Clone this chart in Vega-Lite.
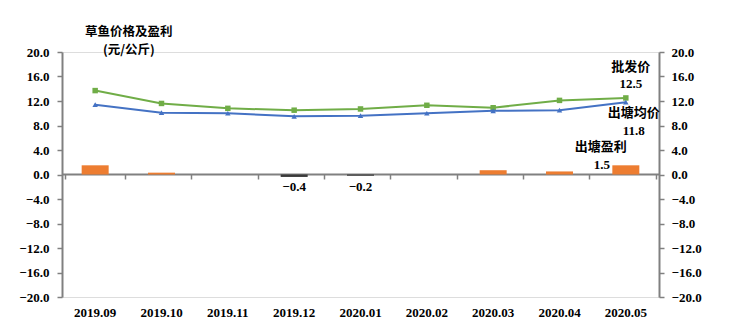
{
  "$schema": "https://vega.github.io/schema/vega-lite/v6.json",
  "width": 597,
  "height": 245,
  "autosize": "none",
  "padding": {"left": 62, "top": 52, "right": 91, "bottom": 36},
  "background": "white",
  "title": {
    "text": ["草鱼价格及盈利", "(元/公斤)"],
    "anchor": "start",
    "align": "center",
    "dx": 110,
    "offset": -10,
    "font": "Noto Sans CJK SC",
    "fontSize": 12.5,
    "fontWeight": "bold",
    "lineHeight": 18,
    "color": "#000000"
  },
  "data": {
    "values": [
      {"month": "2019.09", "wholesale": 13.7, "pond": 11.4, "profit": 1.5},
      {"month": "2019.10", "wholesale": 11.6, "pond": 10.1, "profit": 0.3},
      {"month": "2019.11", "wholesale": 10.8, "pond": 10.0, "profit": 0.0},
      {"month": "2019.12", "wholesale": 10.5, "pond": 9.5, "profit": -0.4},
      {"month": "2020.01", "wholesale": 10.7, "pond": 9.6, "profit": -0.2},
      {"month": "2020.02", "wholesale": 11.3, "pond": 10.0, "profit": 0.0},
      {"month": "2020.03", "wholesale": 10.9, "pond": 10.4, "profit": 0.7},
      {"month": "2020.04", "wholesale": 12.1, "pond": 10.5, "profit": 0.5},
      {"month": "2020.05", "wholesale": 12.5, "pond": 11.8, "profit": 1.5}
    ]
  },
  "resolve": {"axis": {"x": "independent", "y": "independent"}},
  "layer": [
    {
      "mark": {"type": "bar", "size": 27},
      "encoding": {
        "x": {"field": "month", "type": "nominal", "sort": null,
          "axis": {"orient": "bottom", "domain": false, "ticks": false, "labelAngle": 0, "labelPadding": 9, "labelFont": "Liberation Serif", "labelFontSize": 13, "labelFontWeight": "bold", "labelColor": "#000000", "title": null, "grid": false}},
        "y": {"field": "profit", "type": "quantitative", "scale": {"domain": [-20, 20]},
          "axis": {"orient": "left", "values": [-20, -16, -12, -8, -4, 0, 4, 8, 12, 16, 20], "format": ".1f", "tickSize": 5, "domainColor": "#808080", "domainWidth": 2, "tickColor": "#808080", "tickWidth": 1.5, "labelFont": "Liberation Serif", "labelFontSize": 13, "labelFontWeight": "bold", "labelColor": "#000000", "labelPadding": 8, "grid": false, "title": null}},
        "color": {"condition": {"test": "datum.profit < 0", "value": "#3a3a3a"}, "value": "#ED7D31"}
      }
    },
    {
      "mark": {"type": "line", "color": "#70AD47", "strokeWidth": 2,
        "point": {"shape": "square", "size": 30, "filled": true, "color": "#70AD47"}},
      "encoding": {
        "x": {"field": "month", "type": "nominal", "sort": null,
          "axis": {"orient": "bottom", "offset": -123, "labels": false, "tickBand": "extent", "tickSize": 5, "domainColor": "#808080", "domainWidth": 2, "tickColor": "#808080", "tickWidth": 1.5, "title": null, "grid": false}},
        "y": {"field": "wholesale", "type": "quantitative",
          "axis": {"orient": "right", "values": [-20, -16, -12, -8, -4, 0, 4, 8, 12, 16, 20], "format": ".1f", "tickSize": 5, "domainColor": "#808080", "domainWidth": 2, "tickColor": "#808080", "tickWidth": 1.5, "labelFont": "Liberation Serif", "labelFontSize": 13, "labelFontWeight": "bold", "labelColor": "#000000", "labelPadding": 7, "grid": false, "title": null}}
      }
    },
    {
      "mark": {"type": "line", "color": "#4472C4", "strokeWidth": 2,
        "point": {"shape": "triangle-up", "size": 30, "filled": true, "color": "#4472C4"}},
      "encoding": {
        "x": {"field": "month", "type": "nominal", "sort": null, "axis": null},
        "y": {"field": "pond", "type": "quantitative", "axis": null}
      }
    },
    {
      "transform": [{"filter": "datum.profit < 0"}],
      "mark": {"type": "text", "dy": 12, "font": "Liberation Serif", "fontSize": 13, "fontWeight": "bold", "baseline": "middle", "color": "#000000"},
      "encoding": {
        "x": {"field": "month", "type": "nominal", "sort": null, "axis": null},
        "y": {"datum": 0, "type": "quantitative", "axis": null},
        "text": {"field": "profit", "type": "quantitative", "format": ".1f"}
      }
    },
    {
      "transform": [{"filter": "datum.month == '2020.05'"}],
      "mark": {"type": "text", "dx": 5, "dy": -31, "font": "Noto Sans CJK SC", "fontSize": 13, "fontWeight": "bold", "baseline": "middle", "color": "#000000", "text": "批发价"},
      "encoding": {
        "x": {"field": "month", "type": "nominal", "sort": null, "axis": null},
        "y": {"field": "wholesale", "type": "quantitative", "axis": null}
      }
    },
    {
      "transform": [{"filter": "datum.month == '2020.05'"}],
      "mark": {"type": "text", "dx": 5, "dy": -14, "font": "Liberation Serif", "fontSize": 13, "fontWeight": "bold", "baseline": "middle", "color": "#000000"},
      "encoding": {
        "x": {"field": "month", "type": "nominal", "sort": null, "axis": null},
        "y": {"field": "wholesale", "type": "quantitative", "axis": null},
        "text": {"field": "wholesale", "type": "quantitative", "format": ".1f"}
      }
    },
    {
      "transform": [{"filter": "datum.month == '2020.05'"}],
      "mark": {"type": "text", "dx": 8, "dy": 11, "font": "Noto Sans CJK SC", "fontSize": 13, "fontWeight": "bold", "baseline": "middle", "color": "#000000", "text": "出塘均价"},
      "encoding": {
        "x": {"field": "month", "type": "nominal", "sort": null, "axis": null},
        "y": {"field": "pond", "type": "quantitative", "axis": null}
      }
    },
    {
      "transform": [{"filter": "datum.month == '2020.05'"}],
      "mark": {"type": "text", "dx": 8, "dy": 29, "font": "Liberation Serif", "fontSize": 13, "fontWeight": "bold", "baseline": "middle", "color": "#000000"},
      "encoding": {
        "x": {"field": "month", "type": "nominal", "sort": null, "axis": null},
        "y": {"field": "pond", "type": "quantitative", "axis": null},
        "text": {"field": "pond", "type": "quantitative", "format": ".1f"}
      }
    },
    {
      "transform": [{"filter": "datum.month == '2020.05'"}],
      "mark": {"type": "text", "dx": -25, "dy": -18, "font": "Noto Sans CJK SC", "fontSize": 13, "fontWeight": "bold", "baseline": "middle", "color": "#000000", "text": "出塘盈利"},
      "encoding": {
        "x": {"field": "month", "type": "nominal", "sort": null, "axis": null},
        "y": {"field": "profit", "type": "quantitative", "axis": null}
      }
    },
    {
      "transform": [{"filter": "datum.month == '2020.05'"}],
      "mark": {"type": "text", "dx": -24, "dy": 0, "font": "Liberation Serif", "fontSize": 13, "fontWeight": "bold", "baseline": "middle", "color": "#000000"},
      "encoding": {
        "x": {"field": "month", "type": "nominal", "sort": null, "axis": null},
        "y": {"field": "profit", "type": "quantitative", "axis": null},
        "text": {"field": "profit", "type": "quantitative", "format": ".1f"}
      }
    }
  ]
}
